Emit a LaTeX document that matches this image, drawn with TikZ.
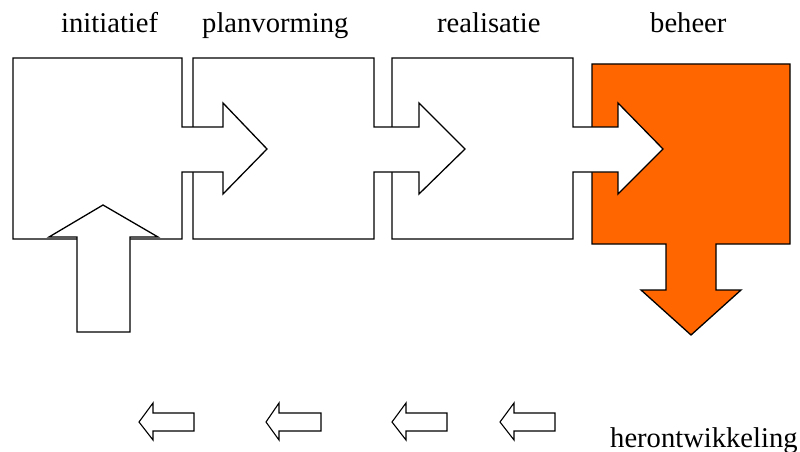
\documentclass[tikz,border=0pt]{standalone}
\usepackage{fontspec}
\setmainfont{Liberation Serif}
\definecolor{oranje}{HTML}{FF6600}
\tikzset{
  outl/.style={draw=black, line width=1.3pt, line join=miter},
  lbl/.style={anchor=base west, inner sep=0pt, font=\fontsize{28.6}{30}\selectfont}
}
\begin{document}
\begin{tikzpicture}[x=1pt,y=-1pt]
\useasboundingbox (0,0) rectangle (800,452);
% beheer (orange) with downward arrow
\filldraw[outl, fill=oranje] (592,64) -- (790,64) -- (790,244) -- (716,244) -- (716,290) -- (741,290) -- (691,335) -- (641,290) -- (666,290) -- (666,244) -- (592,244) -- cycle;
% realisatie with arrow
\filldraw[outl, fill=white] (392,58) -- (573,58) -- (573,127) -- (618,127) -- (618,103) -- (663,149) -- (618,194) -- (618,172) -- (573,172) -- (573,239) -- (392,239) -- cycle;
% planvorming with arrow
\filldraw[outl, fill=white] (193,58) -- (374,58) -- (374,127) -- (419,127) -- (419,103) -- (465,149) -- (419,194) -- (419,172) -- (374,172) -- (374,239) -- (193,239) -- cycle;
% initiatief with arrow
\filldraw[outl, fill=white] (13,58) -- (182,58) -- (182,127) -- (223,127) -- (223,103) -- (267,149) -- (223,194) -- (223,172) -- (182,172) -- (182,239) -- (13,239) -- cycle;
% upward arrow
\filldraw[outl, fill=white] (77,332) -- (77,237) -- (49,237) -- (103,205) -- (158,237) -- (130,237) -- (130,332) -- cycle;
% small left arrows
\foreach \t/\b/\r in {139/153/194, 266/279/321, 392/406/447, 500/514/555}{
  \filldraw[outl, line width=1.1pt, fill=white] (\t,422) -- (\b,403) -- (\b,413) -- (\r,413) -- (\r,431) -- (\b,431) -- (\b,440) -- cycle;
}
\node[lbl] (t1) at (61,33) {initiatief};
\node[lbl] (t2) at (202,33) {planvorming};
\node[lbl] (t3) at (437,33) {realisatie};
\node[lbl] (t4) at (650,33) {beheer};
\node[lbl] (t5) at (610,447) {herontwikkeling};
\end{tikzpicture}
\end{document}
